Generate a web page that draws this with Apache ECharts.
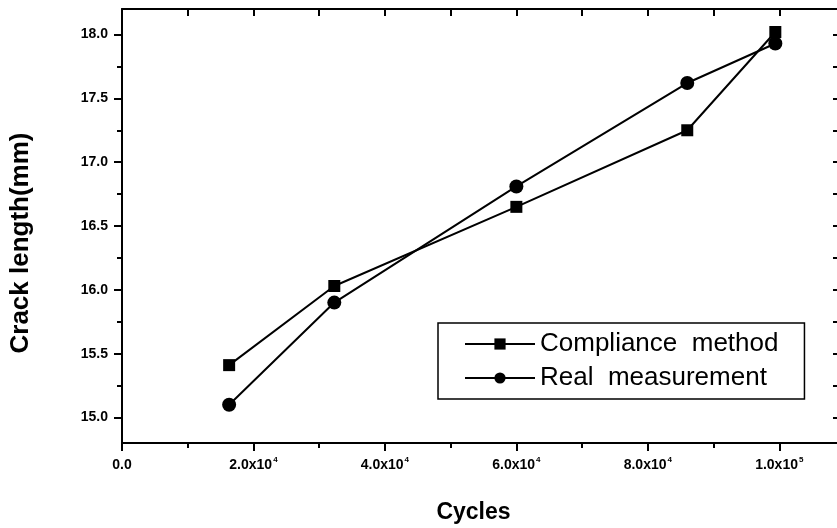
<!DOCTYPE html>
<html>
<head>
<meta charset="utf-8">
<script src="https://cdn.jsdelivr.net/npm/echarts@6/dist/echarts.min.js"></script>
<style>
  html, body { margin: 0; padding: 0; background: #fff; }
  #chart { width: 837px; height: 528px; }
</style>
</head>
<body>
<div id="chart"></div>
<script>
// Crack length against load cycles: compliance estimate vs. measured length
const cycles = [16300, 32300, 60000, 86000, 99400];
const complianceMethod = [15.41, 16.03, 16.65, 17.25, 18.02];
const realMeasurement = [15.10, 15.90, 16.81, 17.62, 17.93];

const xTickValues = [0, 20000, 40000, 60000, 80000, 100000];
const xTickBase = ['0.0', '2.0x10', '4.0x10', '6.0x10', '8.0x10', '1.0x10'];
const xTickExp = ['', '4', '4', '4', '4', '5'];
const xMinorValues = [10000, 30000, 50000, 70000, 90000];

const yTickValues = [15.0, 15.5, 16.0, 16.5, 17.0, 17.5, 18.0];
const yTickLabels = ['15.0', '15.5', '16.0', '16.5', '17.0', '17.5', '18.0'];
const yMinorValues = [15.25, 15.75, 16.25, 16.75, 17.25, 17.75];

const X_MIN = 0, X_MAX = 110000, Y_MIN = 14.8, Y_MAX = 18.2;
const FONT = '"Liberation Sans", Arial, sans-serif';
const INK = '#000';

function pairs(xs, ys) { return xs.map((x, i) => [x, ys[i]]); }

function xLabel(v) {
  const i = xTickValues.indexOf(v);
  if (i < 0) return '';
  return xTickExp[i] ? '{b|' + xTickBase[i] + '}{s|' + xTickExp[i] + '}' : '{b|' + xTickBase[i] + '}';
}
function yLabel(v) {
  const i = yTickValues.findIndex(t => Math.abs(t - v) < 1e-6);
  return i < 0 ? '' : yTickLabels[i];
}

const axisLine = { show: true, onZero: false, lineStyle: { color: INK, width: 2 } };

function xAxisDef(opts) {
  return Object.assign({
    type: 'value', min: X_MIN, max: X_MAX,
    axisLine: axisLine, splitLine: { show: false },
    axisLabel: { show: false }, axisTick: { show: false }
  }, opts);
}
function yAxisDef(opts) {
  return Object.assign({
    type: 'value', min: Y_MIN, max: Y_MAX,
    axisLine: axisLine, splitLine: { show: false },
    axisLabel: { show: false }, axisTick: { show: false }
  }, opts);
}

const chart = echarts.init(document.getElementById('chart'));
chart.setOption({
  backgroundColor: '#fff',
  animation: false,
  grid: { left: 122, right: -8, top: 9, bottom: 85, containLabel: false, outerBoundsMode: 'none' },
  xAxis: [
    xAxisDef({
      position: 'bottom',
      name: 'Cycles', nameLocation: 'middle', nameGap: 58,
      nameTextStyle: { fontFamily: FONT, fontWeight: 'bold', fontSize: 23, color: INK, padding: [0, 20, 0, 0] },
      axisTick: { show: true, inside: false, length: 8, customValues: xTickValues,
        lineStyle: { color: INK, width: 2 } },
      axisLabel: {
        show: true, customValues: xTickValues, margin: 13, formatter: xLabel,
        rich: {
          b: { fontFamily: FONT, fontWeight: 'bold', fontSize: 14, color: INK, lineHeight: 18 },
          s: { fontFamily: FONT, fontWeight: 'bold', fontSize: 8, color: INK, verticalAlign: 'top', lineHeight: 18, padding: [0, 0, 6, 1] }
        }
      }
    }),
    xAxisDef({
      position: 'bottom',
      axisLine: { show: false },
      axisTick: { show: true, inside: false, length: 5, customValues: xMinorValues,
        lineStyle: { color: INK, width: 2 } }
    }),
    xAxisDef({
      position: 'top',
      axisTick: { show: true, inside: true, length: 7,
        customValues: xTickValues.concat(xMinorValues),
        lineStyle: { color: INK, width: 2 } }
    })
  ],
  yAxis: [
    yAxisDef({
      position: 'left',
      name: 'Crack length(mm)', nameLocation: 'middle', nameGap: 88,
      nameTextStyle: { fontFamily: FONT, fontWeight: 'bold', fontSize: 26, color: INK, padding: [0, 34, 0, 0] },
      axisTick: { show: true, inside: false, length: 8, customValues: yTickValues,
        lineStyle: { color: INK, width: 2 } },
      axisLabel: { show: true, customValues: yTickValues, margin: 14, formatter: yLabel,
        fontFamily: FONT, fontWeight: 'bold', fontSize: 14, color: INK }
    }),
    yAxisDef({
      position: 'left',
      axisLine: { show: false },
      axisTick: { show: true, inside: false, length: 5, customValues: yMinorValues,
        lineStyle: { color: INK, width: 2 } }
    }),
    yAxisDef({
      position: 'right',
      axisTick: { show: true, inside: true, length: 12,
        customValues: yTickValues.concat(yMinorValues),
        lineStyle: { color: INK, width: 2 } }
    })
  ],
  legend: {
    orient: 'vertical',
    left: 438, top: 323,
    padding: [8, 26, 8, 26],
    itemGap: 8,
    itemWidth: 70, itemHeight: 14,
    borderColor: INK, borderWidth: 1.5, borderRadius: 0,
    textStyle: { fontFamily: FONT, fontSize: 26, color: INK },
    data: ['Compliance  method', 'Real  measurement']
  },
  series: [
    {
      name: 'Compliance  method', type: 'line',
      xAxisIndex: 0, yAxisIndex: 0,
      data: pairs(cycles, complianceMethod),
      symbol: 'rect', symbolSize: 12,
      lineStyle: { color: INK, width: 2 },
      itemStyle: { color: INK },
      z: 3
    },
    {
      name: 'Real  measurement', type: 'line',
      xAxisIndex: 0, yAxisIndex: 0,
      data: pairs(cycles, realMeasurement),
      symbol: 'circle', symbolSize: 14,
      lineStyle: { color: INK, width: 2 },
      itemStyle: { color: INK },
      z: 3
    }
  ]
});
</script>
</body>
</html>
